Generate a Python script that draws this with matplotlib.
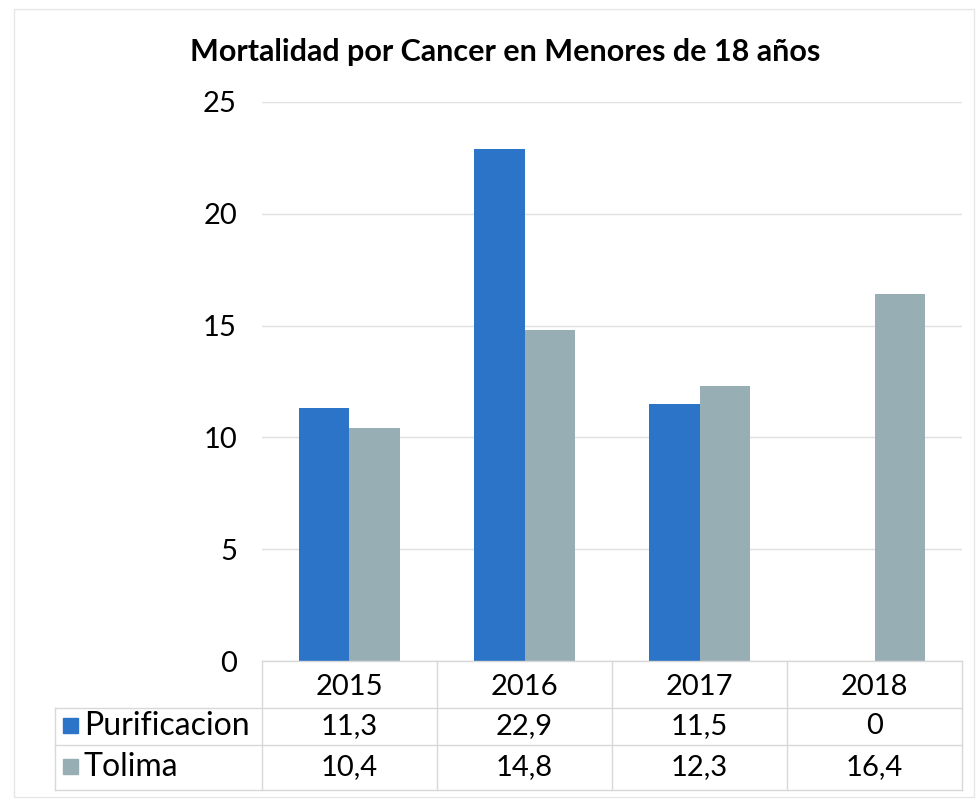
import matplotlib.pyplot as plt
import numpy as np
from matplotlib.patches import Rectangle

# Data
years = ["2015", "2016", "2017", "2018"]
series_names = ["Purificacion", "Tolima"]
purificacion = [11.3, 22.9, 11.5, 0]
tolima = [10.4, 14.8, 12.3, 16.4]
purificacion_labels = ["11,3", "22,9", "11,5", "0"]
tolima_labels = ["10,4", "14,8", "12,3", "16,4"]
colors = ["#2B74C7", "#98AEB5"]

plt.rcParams["font.family"] = ["Lato", "DejaVu Sans"]

fig = plt.figure(figsize=(9.79, 8.01), dpi=100)
W, H = 979, 801
ax = fig.add_axes([262 / W, 1 - 661 / H, 700 / W, 559 / H])

x = np.arange(len(years))
bw = 0.29
ax.bar(x - bw / 2, purificacion, bw, color=colors[0])
ax.bar(x + bw / 2, tolima, bw, color=colors[1])

ax.set_xlim(-0.5, len(years) - 0.5)
ax.set_ylim(0, 25)
ax.set_yticks([0, 5, 10, 15, 20, 25])
ax.tick_params(axis="y", length=0, labelsize=21, pad=18)
ax.set_xticks([])
ax.yaxis.grid(True, color="#e0e0e0", linewidth=1)
ax.set_axisbelow(True)
for s in ax.spines.values():
    s.set_visible(False)

# Data table below the plot
tr = ax.get_xaxis_transform()
line_col = "#d8d8d8"
y_top, y_r1, y_r2, y_bot = 0.0, -0.084, -0.150, -0.231
left_ax = (55 - 262) / 700 * len(years) - 0.5

ax.plot([-0.5, len(years) - 0.5], [y_top, y_top], transform=tr, color=line_col, lw=1, clip_on=False)
for yy in (y_r1, y_r2, y_bot):
    ax.plot([left_ax, len(years) - 0.5], [yy, yy], transform=tr, color=line_col, lw=1, clip_on=False)
for xx in np.arange(len(years) + 1) - 0.5:
    ax.plot([xx, xx], [y_top, y_bot], transform=tr, color=line_col, lw=1, clip_on=False)
ax.plot([left_ax, left_ax], [y_r1, y_bot], transform=tr, color=line_col, lw=1, clip_on=False)

for i, yr in enumerate(years):
    ax.text(i, (y_top + y_r1) / 2 - 0.004, yr, transform=tr, ha="center", va="center", fontsize=21)
    ax.text(i, (y_r1 + y_r2) / 2, purificacion_labels[i], transform=tr, ha="center", va="center", fontsize=21)
    ax.text(i, (y_r2 + y_bot) / 2, tolima_labels[i], transform=tr, ha="center", va="center", fontsize=21)

for name, col, (ya, yb) in zip(series_names, colors, [(y_r1, y_r2), (y_r2, y_bot)]):
    yc = (ya + yb) / 2
    fig_y = 1 - (661 - yc * 559) / H
    fig.patches.append(Rectangle((63 / W, fig_y - 7 / H), 15 / W, 15 / H,
                                 transform=fig.transFigure, color=col))
    fig.text(84 / W, fig_y, name, ha="left", va="center", fontsize=23)

fig.text(505 / W, 1 - 52 / H, "Mortalidad por Cancer en Menores de 18 años",
         ha="center", va="center", fontsize=22, fontweight="bold")

# light outer frame
fig.patches.append(Rectangle((14 / W, 4 / H), 960 / W, 1 - 13 / H, transform=fig.transFigure,
                             fill=False, edgecolor="#e6e6e6", lw=1))

plt.savefig("out.png", dpi=100)
plt.close()
